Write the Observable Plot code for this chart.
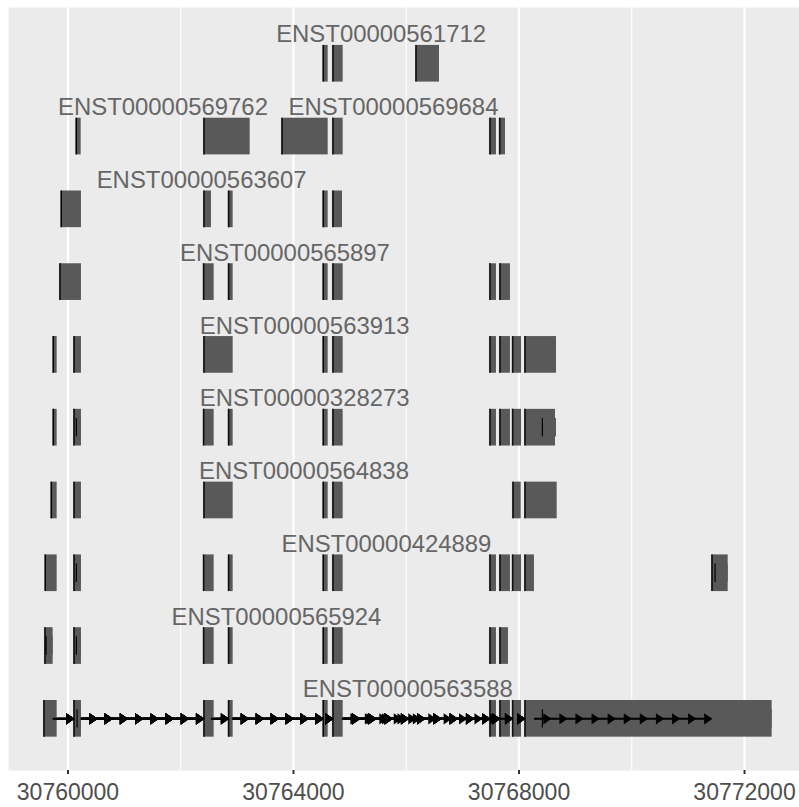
<!DOCTYPE html>
<html>
<head>
<meta charset="utf-8">
<script src="https://cdn.jsdelivr.net/npm/d3@7"></script>
<script src="https://cdn.jsdelivr.net/npm/@observablehq/plot@0.6"></script>
<style>
  html, body { margin: 0; padding: 0; background: #ffffff; }
</style>
</head>
<body>
<div id="chart"></div>
<script>
// Transcript models of one locus (genomic coordinates, bp)
const transcriptIds = [
  "ENST00000561712", "ENST00000569762", "ENST00000569684", "ENST00000563607",
  "ENST00000565897", "ENST00000563913", "ENST00000328273", "ENST00000564838",
  "ENST00000424889", "ENST00000565924", "ENST00000563588"
];
const transcriptRows = [1, 2, 2, 3, 4, 5, 6, 7, 8, 9, 10];

// exon blocks per transcript [start, end]
const exons561712 = [[30764519, 30764615], [30764691, 30764881], [30766164, 30766589]];
const exons569762 = [[30760138, 30760234], [30762403, 30763232]];
const exons569684 = [[30763787, 30764615], [30764691, 30764881], [30767476, 30767600], [30767650, 30767760]];
const exons563607 = [[30759872, 30760239], [30762403, 30762545], [30762841, 30762930], [30764519, 30764615], [30764691, 30764869]];
const exons565897 = [[30759849, 30760239], [30762398, 30762593], [30762841, 30762930], [30764519, 30764615], [30764691, 30764881], [30767476, 30767600], [30767653, 30767848]];
const exons563913 = [[30759730, 30759808], [30760098, 30760239], [30762403, 30762930], [30764519, 30764615], [30764691, 30764881], [30767476, 30767600], [30767653, 30767848], [30767879, 30768044], [30768097, 30768665]];
const exons328273 = [[30759730, 30759808], [30760098, 30760239], [30762398, 30762593], [30762841, 30762930], [30764519, 30764615], [30764691, 30764881], [30767476, 30767600], [30767653, 30767848], [30767879, 30768044], [30768097, 30768647]];
const exons564838 = [[30759695, 30759808], [30760098, 30760239], [30762403, 30762930], [30764519, 30764615], [30764691, 30764881], [30767884, 30768038], [30768097, 30768677]];
const exons424889 = [[30759588, 30759808], [30760098, 30760239], [30762398, 30762593], [30762841, 30762930], [30764519, 30764615], [30764691, 30764881], [30767476, 30767600], [30767653, 30767848], [30767879, 30768044], [30768097, 30768274], [30771414, 30771710]];
const exons565924 = [[30759583, 30759737], [30760098, 30760239], [30762398, 30762593], [30762841, 30762930], [30764519, 30764615], [30764691, 30764881], [30767476, 30767600], [30767653, 30767813]];
const exons563588 = [[30759565, 30759808], [30760098, 30760239], [30762403, 30762593], [30762841, 30762930], [30764519, 30764615], [30764691, 30764881], [30767476, 30767600], [30767653, 30767848], [30767879, 30768044], [30768097, 30772490]];

// untranslated pieces drawn as thinner blocks
const utr328273 = [[30760138, 30760239], [30768404, 30768665]];
const utr424889 = [[30760138, 30760239], [30771467, 30771710]];
const utr565924 = [[30759601, 30759737], [30760138, 30760239]];
const utr563588 = [[30760151, 30760239], [30768404, 30772490]];

const exonSets = [exons561712, exons569762, exons569684, exons563607, exons565897, exons563913,
                  exons328273, exons564838, exons424889, exons565924, exons563588];
const utrSets = [[], [], [], [], [], [], utr328273, [], utr424889, utr565924, utr563588];

// axis breaks
const majorBreaks = [30760000, 30764000, 30768000, 30772000];
const minorBreaks = [30762000, 30766000, 30770000];

// row holding the intron/strand track
const intronRow = 10;
const arrowStep = 277; // bp between strand arrowheads

// --- tables built from the arrays above ---
const exonRows = [];
const utrRows = [];
const intronRows = [];
const labelRows = [];
transcriptIds.forEach((id, i) => {
  const row = transcriptRows[i];
  const ex = exonSets[i];
  ex.forEach(([start, end]) => exonRows.push({ id, row, start, end }));
  utrSets[i].forEach(([start, end]) => utrRows.push({ id, row, start, end }));
  for (let k = 1; k < ex.length; k++) {
    intronRows.push({ id, start: ex[k - 1][1], end: ex[k][0] });
  }
  const all = ex.concat(utrSets[i]);
  const lo = d3.min(all, d => d[0]);
  const hi = d3.max(all, d => d[1]);
  labelRows.push({ id, row, mid: (lo + hi) / 2 });
});

// strand arrowheads spread along every intron
const arrowTips = [];
intronRows.forEach(({ start, end }) => {
  const len = end - start;
  const n = Math.max(1, Math.round(len / arrowStep));
  for (let k = 1; k <= n; k++) arrowTips.push({ x: start + (k * len) / n });
});

// right-pointing filled arrowhead, tip at the anchor
const arrowHead = {
  draw(context, size) {
    const r = Math.sqrt(size / Math.PI);
    context.moveTo(1, 0);
    context.lineTo(-1.3 * r, -r);
    context.lineTo(-1.3 * r, r);
    context.closePath();
  }
};

const thick = 0.252;
const thin = 0.126;

const chart = Plot.plot({
  width: 799,
  height: 807,
  marginLeft: 8,
  marginRight: 0,
  marginTop: 7,
  marginBottom: 37,
  style: { fontFamily: "'Liberation Sans', Arial, sans-serif", background: "#ffffff" },
  x: { domain: [30758945, 30772975], axis: null },
  y: { domain: [10.71, 0.227], axis: null },
  marks: [
    Plot.frame({ fill: "#EBEBEB", stroke: "none" }),
    Plot.ruleX(minorBreaks, { stroke: "#ffffff", strokeWidth: 1.1 }),
    Plot.ruleX(majorBreaks, { stroke: "#ffffff", strokeWidth: 2.2 }),
    Plot.rect(exonRows, {
      x1: "start", x2: "end",
      y1: d => d.row - thick, y2: d => d.row + thick,
      fill: "#595959"
    }),
    Plot.rect(utrRows, {
      x1: "start", x2: "end",
      y1: d => d.row - thin, y2: d => d.row + thin,
      fill: "#595959"
    }),
    Plot.ruleX(exonRows, {
      x: "start", y1: d => d.row - thick, y2: d => d.row + thick,
      stroke: "#000000", strokeWidth: 1.2, dx: 0.6
    }),
    Plot.ruleX(utrRows, {
      x: "start", y1: d => d.row - thin, y2: d => d.row + thin,
      stroke: "#000000", strokeWidth: 1.2, dx: 0.6
    }),
    Plot.ruleY(intronRows, {
      y: () => intronRow, x1: "start", x2: "end",
      stroke: "#000000", strokeWidth: 2
    }),
    Plot.dot(arrowTips, {
      x: "x", y: () => intronRow, r: 5.6,
      symbol: arrowHead, fill: "#000000", stroke: "none"
    }),
    Plot.text(labelRows, {
      x: "mid", y: "row", text: "id",
      lineAnchor: "bottom", dy: -21.4,
      fontSize: 23.9, fill: "#666666"
    }),
    Plot.axisX(majorBreaks, {
      tickSize: 4, tickPadding: 9,
      stroke: "#333333", strokeWidth: 2,
      fill: "#4D4D4D", fontSize: 23,
      tickFormat: d3.format("d")
    })
  ]
});

document.getElementById("chart").appendChild(chart);
</script>
</body>
</html>
